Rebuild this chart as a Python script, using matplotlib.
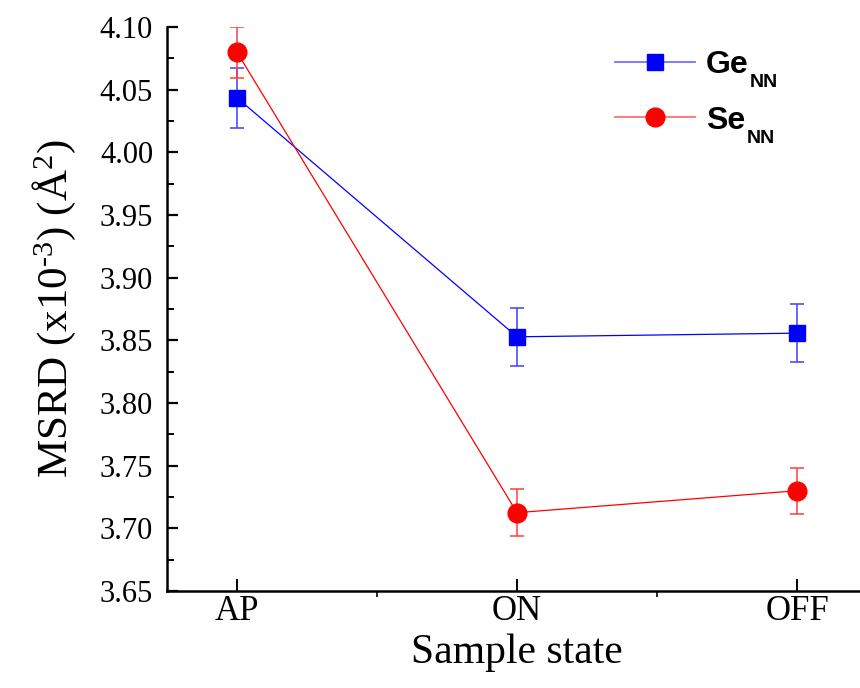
import matplotlib
matplotlib.use("Agg")
import matplotlib.pyplot as plt
from matplotlib.lines import Line2D
from matplotlib.ticker import MultipleLocator, FixedLocator

states = ["AP", "ON", "OFF"]
ge_values = [4.0435, 3.8528, 3.8557]
ge_errors = [0.024, 0.023, 0.023]
se_values = [4.0798, 3.7125, 3.7300]
se_errors = [0.0205, 0.0185, 0.0183]
y_ticks = [3.65, 3.70, 3.75, 3.80, 3.85, 3.90, 3.95, 4.00, 4.05, 4.10]
series_names = ["Ge", "Se"]
subscript = "NN"

plt.rcParams['font.family'] = ['Liberation Serif', 'DejaVu Serif']
plt.rcParams['mathtext.fontset'] = 'custom'
plt.rcParams['mathtext.rm'] = 'Liberation Serif'
plt.rcParams['mathtext.it'] = 'Liberation Serif:italic'
plt.rcParams['mathtext.bf'] = 'Liberation Serif:bold'

fig = plt.figure(figsize=(8.6, 6.88), dpi=100)
ax = fig.add_axes([0.1942, 0.1410, 0.8140, 0.8198])

x = [1, 2, 3]
ax.errorbar(x, ge_values, yerr=ge_errors, color='#0000ff', lw=0.9,
            marker='s', ms=12, mec='#0000ff', mfc='#0000ff',
            ecolor=(0.25, 0.25, 1.0, 0.85), elinewidth=1.3, capsize=5, capthick=1.3, zorder=3)
ax.errorbar(x, se_values, yerr=se_errors, color='#ff0000', lw=0.9,
            marker='o', ms=13.5, mec='#ff0000', mfc='#ff0000',
            ecolor=(1.0, 0.25, 0.25, 0.85), elinewidth=1.3, capsize=5, capthick=1.3, zorder=3)

ax.set_xlim(0.75, 3.25)
ax.set_ylim(3.65, 4.10)
ax.xaxis.set_major_locator(FixedLocator(x))
ax.set_xticklabels(states)
ax.xaxis.set_minor_locator(FixedLocator([1.5, 2.5]))
ax.yaxis.set_major_locator(FixedLocator(y_ticks))
ax.set_yticklabels([f"{v:.2f}" for v in y_ticks])
ax.yaxis.set_minor_locator(MultipleLocator(0.025))

for s in ['top', 'right']:
    ax.spines[s].set_visible(False)
for s in ['left', 'bottom']:
    ax.spines[s].set_linewidth(1.8)

ax.tick_params(axis='y', which='major', direction='in', length=8, width=1.6, labelsize=22, pad=10)
ax.tick_params(axis='y', which='minor', direction='in', length=5, width=1.4)
ax.tick_params(axis='x', which='major', direction='in', length=9, width=1.4, labelsize=25, pad=3)
ax.tick_params(axis='x', which='minor', direction='out', length=4, width=1.2)

ax.set_xlabel("Sample state", fontsize=30, labelpad=4)
ax.set_ylabel(r"MSRD (x10$^{\text{-}3}$) (Å$^{2}$)", fontsize=31, labelpad=16)

handles = [
    Line2D([], [], color=(0, 0, 1, 0.55), lw=1.3, marker='s', ms=12, mfc='#0000ff', mec='#0000ff'),
    Line2D([], [], color=(1, 0, 0, 0.55), lw=1.3, marker='o', ms=13.5, mfc='#ff0000', mec='#ff0000'),
]
leg = fig.legend(handles, series_names, loc='upper left', bbox_to_anchor=(615 / 860, 1 - 50 / 688),
                 frameon=False, prop={'family': 'Liberation Sans', 'weight': 'bold', 'size': 23},
                 handlelength=2.5, handletextpad=0.35,
                 labelspacing=0.8, borderaxespad=0, borderpad=0)

fig.canvas.draw()
for t in leg.get_texts():
    bb = t.get_window_extent()
    fig.text(bb.x1 + 1, bb.y0 - 7, subscript, transform=None,
             family='Liberation Sans', weight='bold', fontsize=14, ha='left', va='baseline')

fig.savefig("out.png", dpi=100)
